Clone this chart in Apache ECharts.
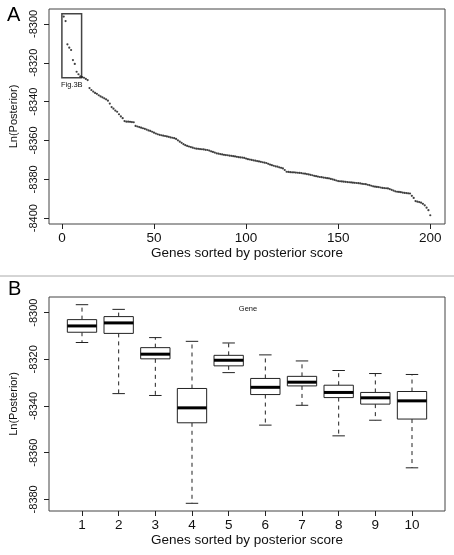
<!DOCTYPE html>
<html>
<head>
<meta charset="utf-8">
<script src="https://cdn.jsdelivr.net/npm/echarts@6/dist/echarts.min.js"></script>
<style>
html,body{margin:0;padding:0;background:#fff;}
#chart{width:454px;height:555px;}
</style>
</head>
<body>
<div id="chart"></div>
<script>
// ---------- Panel A data ----------
const posteriorA = [
-8296.2,-8298.5,-8310.5,-8312.2,-8313.4,-8318.6,-8320.6,-8324.6,-8325.9,-8327.0,
-8327.3,-8327.7,-8328.3,-8328.9,-8333.0,-8334.0,-8334.8,-8335.5,-8336.0,-8336.7,
-8337.3,-8337.8,-8338.3,-8338.8,-8339.5,-8341.0,-8342.8,-8343.6,-8344.6,-8345.2,
-8346.5,-8347.6,-8348.5,-8350.0,-8350.3,-8350.3,-8350.4,-8350.5,-8350.6,-8352.5,
-8352.8,-8353.1,-8353.4,-8353.7,-8354.0,-8354.4,-8354.8,-8355.1,-8355.5,-8356.0,
-8356.4,-8356.8,-8357.1,-8357.3,-8357.5,-8357.7,-8357.9,-8358.1,-8358.4,-8358.6,
-8358.8,-8359.2,-8359.9,-8360.6,-8361.2,-8361.9,-8362.4,-8362.8,-8363.1,-8363.4,
-8363.7,-8364.0,-8364.2,-8364.3,-8364.4,-8364.5,-8364.6,-8364.8,-8364.9,-8365.2,
-8365.6,-8365.9,-8366.2,-8366.6,-8366.8,-8367.0,-8367.2,-8367.4,-8367.5,-8367.6,
-8367.8,-8367.9,-8368.1,-8368.2,-8368.4,-8368.6,-8368.7,-8368.8,-8369.0,-8369.3,
-8369.6,-8369.8,-8370.0,-8370.2,-8370.4,-8370.6,-8370.8,-8371.0,-8371.2,-8371.4,
-8371.6,-8372.0,-8372.4,-8372.7,-8373.0,-8373.3,-8373.5,-8373.8,-8374.1,-8374.4,
-8375.2,-8376.1,-8376.2,-8376.3,-8376.4,-8376.4,-8376.5,-8376.6,-8376.7,-8376.8,
-8377.0,-8377.1,-8377.3,-8377.5,-8377.7,-8377.9,-8378.2,-8378.4,-8378.6,-8378.8,
-8378.9,-8379.1,-8379.2,-8379.4,-8379.5,-8379.8,-8380.0,-8380.3,-8380.6,-8380.9,
-8381.0,-8381.1,-8381.2,-8381.3,-8381.4,-8381.5,-8381.6,-8381.7,-8381.8,-8381.9,
-8382.0,-8382.1,-8382.3,-8382.4,-8382.5,-8382.8,-8383.0,-8383.3,-8383.6,-8383.8,
-8383.9,-8384.0,-8384.2,-8384.4,-8384.5,-8384.6,-8384.7,-8385.0,-8385.4,-8385.8,
-8386.2,-8386.4,-8386.5,-8386.6,-8386.8,-8387.0,-8387.1,-8387.2,-8387.3,-8388.5,
-8389.6,-8391.2,-8391.5,-8391.7,-8392.0,-8392.6,-8393.4,-8394.6,-8395.9,-8398.5
];
const xTicksA = [0, 50, 100, 150, 200];
const yTicksA = [-8400, -8380, -8360, -8340, -8320, -8300];
// Fig.3B highlight box (data space): [x0, x1, yTop, yBottom]
const fig3bBox = [0, 10.7, -8294.8, -8327.7];

// ---------- Panel B data ----------
const geneGroups = [1, 2, 3, 4, 5, 6, 7, 8, 9, 10];
const whiskerLow  = [-8312.8, -8334.7, -8335.5, -8381.7, -8325.7, -8348.2, -8339.7, -8352.8, -8346.1, -8366.5];
const quart1      = [-8308.4, -8308.9, -8319.8, -8347.2, -8322.8, -8335.1, -8331.4, -8336.4, -8339.2, -8345.6];
const medians     = [-8305.7, -8304.4, -8317.8, -8340.8, -8320.4, -8332.0, -8329.8, -8334.2, -8336.5, -8337.8];
const quart3      = [-8303.0, -8301.7, -8315.0, -8332.5, -8318.3, -8328.2, -8327.3, -8331.1, -8334.2, -8333.8];
const whiskerHigh = [-8296.6, -8298.6, -8310.7, -8312.3, -8313.0, -8318.1, -8320.7, -8324.8, -8326.1, -8326.5];
const yTicksB = [-8380, -8360, -8340, -8320, -8300];

const scatterA = posteriorA.map((v, i) => [i + 1, v]);
const boxB = geneGroups.map((g, i) => [g, whiskerLow[i], quart1[i], medians[i], quart3[i], whiskerHigh[i]]);

const FONT = 'Liberation Sans, Arial, sans-serif';
const INK = '#222';
const plain = v => String(v);

function xAxisDef(gridIndex, min, max, ticks) {
  return {
    type: 'value', gridIndex: gridIndex, min: min, max: max,
    axisLine: { show: false, onZero: false },
    axisTick: { show: true, inside: false, length: 5, lineStyle: { color: INK, width: 1 }, customValues: ticks },
    axisLabel: { color: '#111', fontSize: 13.5, fontFamily: FONT, margin: 7, formatter: plain, customValues: ticks },
    splitLine: { show: false },
    name: 'Genes sorted by posterior score',
    nameLocation: 'middle', nameGap: 22,
    nameTextStyle: { color: '#111', fontSize: 13.5, fontFamily: FONT }
  };
}
function yAxisDef(gridIndex, min, max, ticks) {
  return {
    type: 'value', gridIndex: gridIndex, min: min, max: max,
    axisLine: { show: false, onZero: false },
    axisTick: { show: true, inside: false, length: 5, lineStyle: { color: INK, width: 1 }, customValues: ticks },
    axisLabel: { color: '#111', fontSize: 11, fontFamily: FONT, rotate: 90, margin: 10,
                 align: 'center', verticalAlign: 'bottom', formatter: plain, customValues: ticks },
    splitLine: { show: false },
    name: 'Ln(Posterior)',
    nameLocation: 'middle', nameRotate: 90, nameGap: 30,
    nameTextStyle: { color: '#111', fontSize: 11, fontFamily: FONT }
  };
}

const chart = echarts.init(document.getElementById('chart'), null, { renderer: 'canvas' });

chart.setOption({
  backgroundColor: '#fff',
  animation: false,
  title: [
    { text: 'A', left: 7, top: 5, padding: 0, textStyle: { fontSize: 20, fontWeight: 'normal', fontFamily: FONT, color: '#000' } },
    { text: 'B', left: 8, top: 279, padding: 0, textStyle: { fontSize: 20, fontWeight: 'normal', fontFamily: FONT, color: '#000' } },
    { text: 'Gene', left: 248, top: 305, padding: 0, textAlign: 'center', textStyle: { fontSize: 7.5, fontWeight: 'normal', fontFamily: FONT, color: '#111' } }
  ],
  graphic: [
    { type: 'line', shape: { x1: 0, y1: 276, x2: 454, y2: 276 }, style: { stroke: '#aaa', lineWidth: 1 } }
  ],
  grid: [
    { left: 48, top: 9, width: 397, height: 215, show: true, borderColor: '#444', borderWidth: 1, backgroundColor: 'transparent' },
    { left: 46, top: 297, width: 399, height: 214, show: true, borderColor: '#444', borderWidth: 1, backgroundColor: 'transparent' }
  ],
  xAxis: [
    xAxisDef(0, -7, 208, xTicksA),
    xAxisDef(1, 0.1, 10.9, geneGroups)
  ],
  yAxis: [
    yAxisDef(0, -8403, -8292.3, yTicksA),
    yAxisDef(1, -8385, -8293.3, yTicksB)
  ],
  series: [
    {
      type: 'scatter',
      xAxisIndex: 0, yAxisIndex: 0,
      data: scatterA,
      symbol: 'circle',
      symbolSize: 2.2,
      itemStyle: { color: '#111' },
      silent: true,
      markArea: {
        silent: true,
        itemStyle: { color: 'rgba(0,0,0,0)', borderColor: '#444', borderWidth: 1.5 },
        label: { show: true, position: 'bottom', distance: 2, formatter: 'Fig.3B', fontSize: 7.5, fontFamily: FONT, color: '#111' },
        data: [[ { coord: [fig3bBox[0], fig3bBox[2]] }, { coord: [fig3bBox[1], fig3bBox[3]] } ]]
      }
    },
    {
      type: 'custom',
      xAxisIndex: 1, yAxisIndex: 1,
      data: boxB,
      encode: { x: 0, y: [1, 2, 3, 4, 5] },
      silent: true,
      renderItem: function (params, api) {
        const x = api.value(0);
        const pLo = api.coord([x, api.value(1)]);
        const pQ1 = api.coord([x, api.value(2)]);
        const pMed = api.coord([x, api.value(3)]);
        const pQ3 = api.coord([x, api.value(4)]);
        const pHi = api.coord([x, api.value(5)]);
        const halfBox = api.size([0.4, 0])[0];
        const halfStaple = api.size([0.17, 0])[0];
        const cx = pMed[0];
        const solid = { stroke: INK, lineWidth: 1, fill: null };
        const dashed = { stroke: INK, lineWidth: 1, lineDash: [4, 4], fill: null };
        return {
          type: 'group',
          children: [
            { type: 'line', shape: { x1: cx, y1: pQ3[1], x2: cx, y2: pHi[1] }, style: dashed },
            { type: 'line', shape: { x1: cx, y1: pQ1[1], x2: cx, y2: pLo[1] }, style: dashed },
            { type: 'line', shape: { x1: cx - halfStaple, y1: pHi[1], x2: cx + halfStaple, y2: pHi[1] }, style: solid },
            { type: 'line', shape: { x1: cx - halfStaple, y1: pLo[1], x2: cx + halfStaple, y2: pLo[1] }, style: solid },
            { type: 'rect', shape: { x: cx - halfBox, y: pQ3[1], width: 2 * halfBox, height: pQ1[1] - pQ3[1] }, style: { stroke: INK, lineWidth: 1, fill: '#fff' } },
            { type: 'line', shape: { x1: cx - halfBox, y1: pMed[1], x2: cx + halfBox, y2: pMed[1] }, style: { stroke: '#000', lineWidth: 3 } }
          ]
        };
      }
    }
  ]
});
</script>
</body>
</html>
